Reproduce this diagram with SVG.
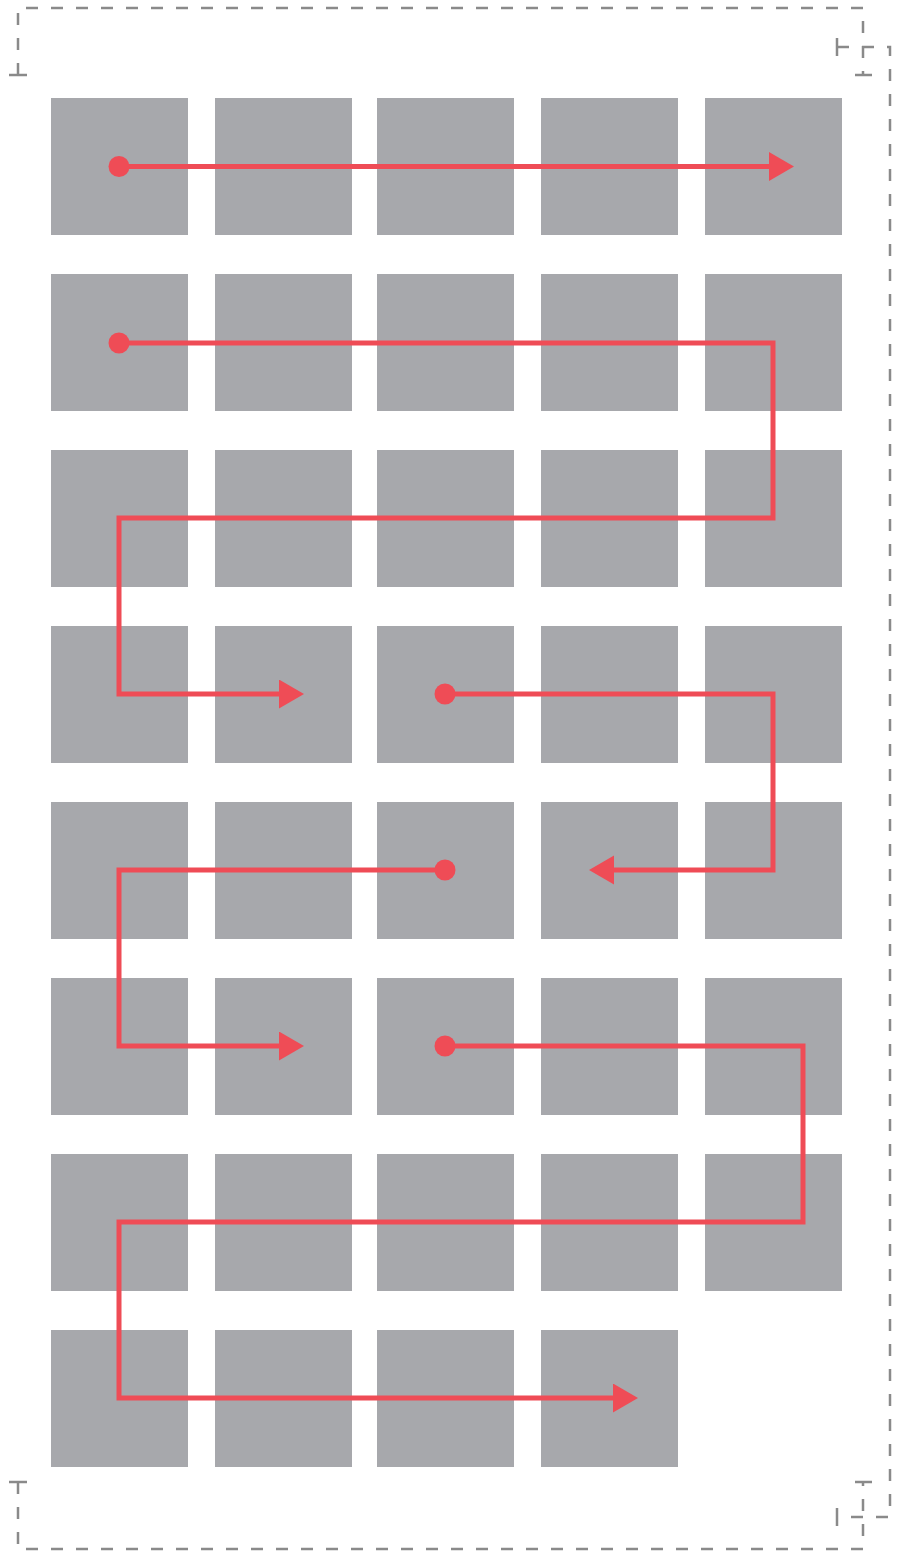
<svg xmlns="http://www.w3.org/2000/svg" width="903" height="1552" viewBox="0 0 903 1552">
<style>
.sq{fill:#a7a8ac}
.flow{fill:none;stroke:#ef4c56;stroke-width:5;stroke-linejoin:miter}
.dash{fill:none;stroke:#8a8a8a;stroke-width:2.5;stroke-dasharray:12 13}
.tick{fill:none;stroke:#8a8a8a;stroke-width:2.5}
</style>
<defs>
<marker id="arr" markerUnits="userSpaceOnUse" markerWidth="26" markerHeight="30" refX="0" refY="14.5" orient="auto" viewBox="0 0 26 30">
<path d="M0,0 L25,14.5 L0,29 Z" fill="#ef4c56"/>
</marker>
<marker id="dot" markerUnits="userSpaceOnUse" markerWidth="22" markerHeight="22" refX="11" refY="11" viewBox="0 0 22 22">
<circle cx="11" cy="11" r="10.5" fill="#ef4c56"/>
</marker>
</defs>
<g id="frame">
<path class="dash" d="M18,75 V8 H863 V75"/>
<path class="tick" d="M9,75 H27 M855,75 H872"/>
<path class="dash" d="M18,1482 V1549 H863 V1482"/>
<path class="tick" d="M9,1482 H27 M855,1482 H872"/>
<path class="dash" d="M837,47 H890 V1517 H837"/>
<path class="tick" d="M837,38 V56 M837,1508 V1526"/>
</g>
<g id="nodes">
<g id="r1"><rect class="sq" x="51" y="98" width="137" height="137"/><rect class="sq" x="215" y="98" width="137" height="137"/><rect class="sq" x="377" y="98" width="137" height="137"/><rect class="sq" x="541" y="98" width="137" height="137"/><rect class="sq" x="705" y="98" width="137" height="137"/></g>
<g id="r2"><rect class="sq" x="51" y="274" width="137" height="137"/><rect class="sq" x="215" y="274" width="137" height="137"/><rect class="sq" x="377" y="274" width="137" height="137"/><rect class="sq" x="541" y="274" width="137" height="137"/><rect class="sq" x="705" y="274" width="137" height="137"/></g>
<g id="r3"><rect class="sq" x="51" y="450" width="137" height="137"/><rect class="sq" x="215" y="450" width="137" height="137"/><rect class="sq" x="377" y="450" width="137" height="137"/><rect class="sq" x="541" y="450" width="137" height="137"/><rect class="sq" x="705" y="450" width="137" height="137"/></g>
<g id="r4"><rect class="sq" x="51" y="626" width="137" height="137"/><rect class="sq" x="215" y="626" width="137" height="137"/><rect class="sq" x="377" y="626" width="137" height="137"/><rect class="sq" x="541" y="626" width="137" height="137"/><rect class="sq" x="705" y="626" width="137" height="137"/></g>
<g id="r5"><rect class="sq" x="51" y="802" width="137" height="137"/><rect class="sq" x="215" y="802" width="137" height="137"/><rect class="sq" x="377" y="802" width="137" height="137"/><rect class="sq" x="541" y="802" width="137" height="137"/><rect class="sq" x="705" y="802" width="137" height="137"/></g>
<g id="r6"><rect class="sq" x="51" y="978" width="137" height="137"/><rect class="sq" x="215" y="978" width="137" height="137"/><rect class="sq" x="377" y="978" width="137" height="137"/><rect class="sq" x="541" y="978" width="137" height="137"/><rect class="sq" x="705" y="978" width="137" height="137"/></g>
<g id="r7"><rect class="sq" x="51" y="1154" width="137" height="137"/><rect class="sq" x="215" y="1154" width="137" height="137"/><rect class="sq" x="377" y="1154" width="137" height="137"/><rect class="sq" x="541" y="1154" width="137" height="137"/><rect class="sq" x="705" y="1154" width="137" height="137"/></g>
<g id="r8"><rect class="sq" x="51" y="1330" width="137" height="137"/><rect class="sq" x="215" y="1330" width="137" height="137"/><rect class="sq" x="377" y="1330" width="137" height="137"/><rect class="sq" x="541" y="1330" width="137" height="137"/></g>
</g>
<g id="connectors">
<path class="flow" marker-start="url(#dot)" marker-end="url(#arr)" d="M119,166.5 H769"/>
<path class="flow" marker-start="url(#dot)" marker-end="url(#arr)" d="M119,343 H773 V518 H119 V694 H279"/>
<path class="flow" marker-start="url(#dot)" marker-end="url(#arr)" d="M445,694 H773 V870 H614"/>
<path class="flow" marker-start="url(#dot)" marker-end="url(#arr)" d="M445,870 H119 V1046 H279"/>
<path class="flow" marker-start="url(#dot)" marker-end="url(#arr)" d="M445,1046 H803 V1222 H119 V1398 H613"/>
</g>
</svg>
